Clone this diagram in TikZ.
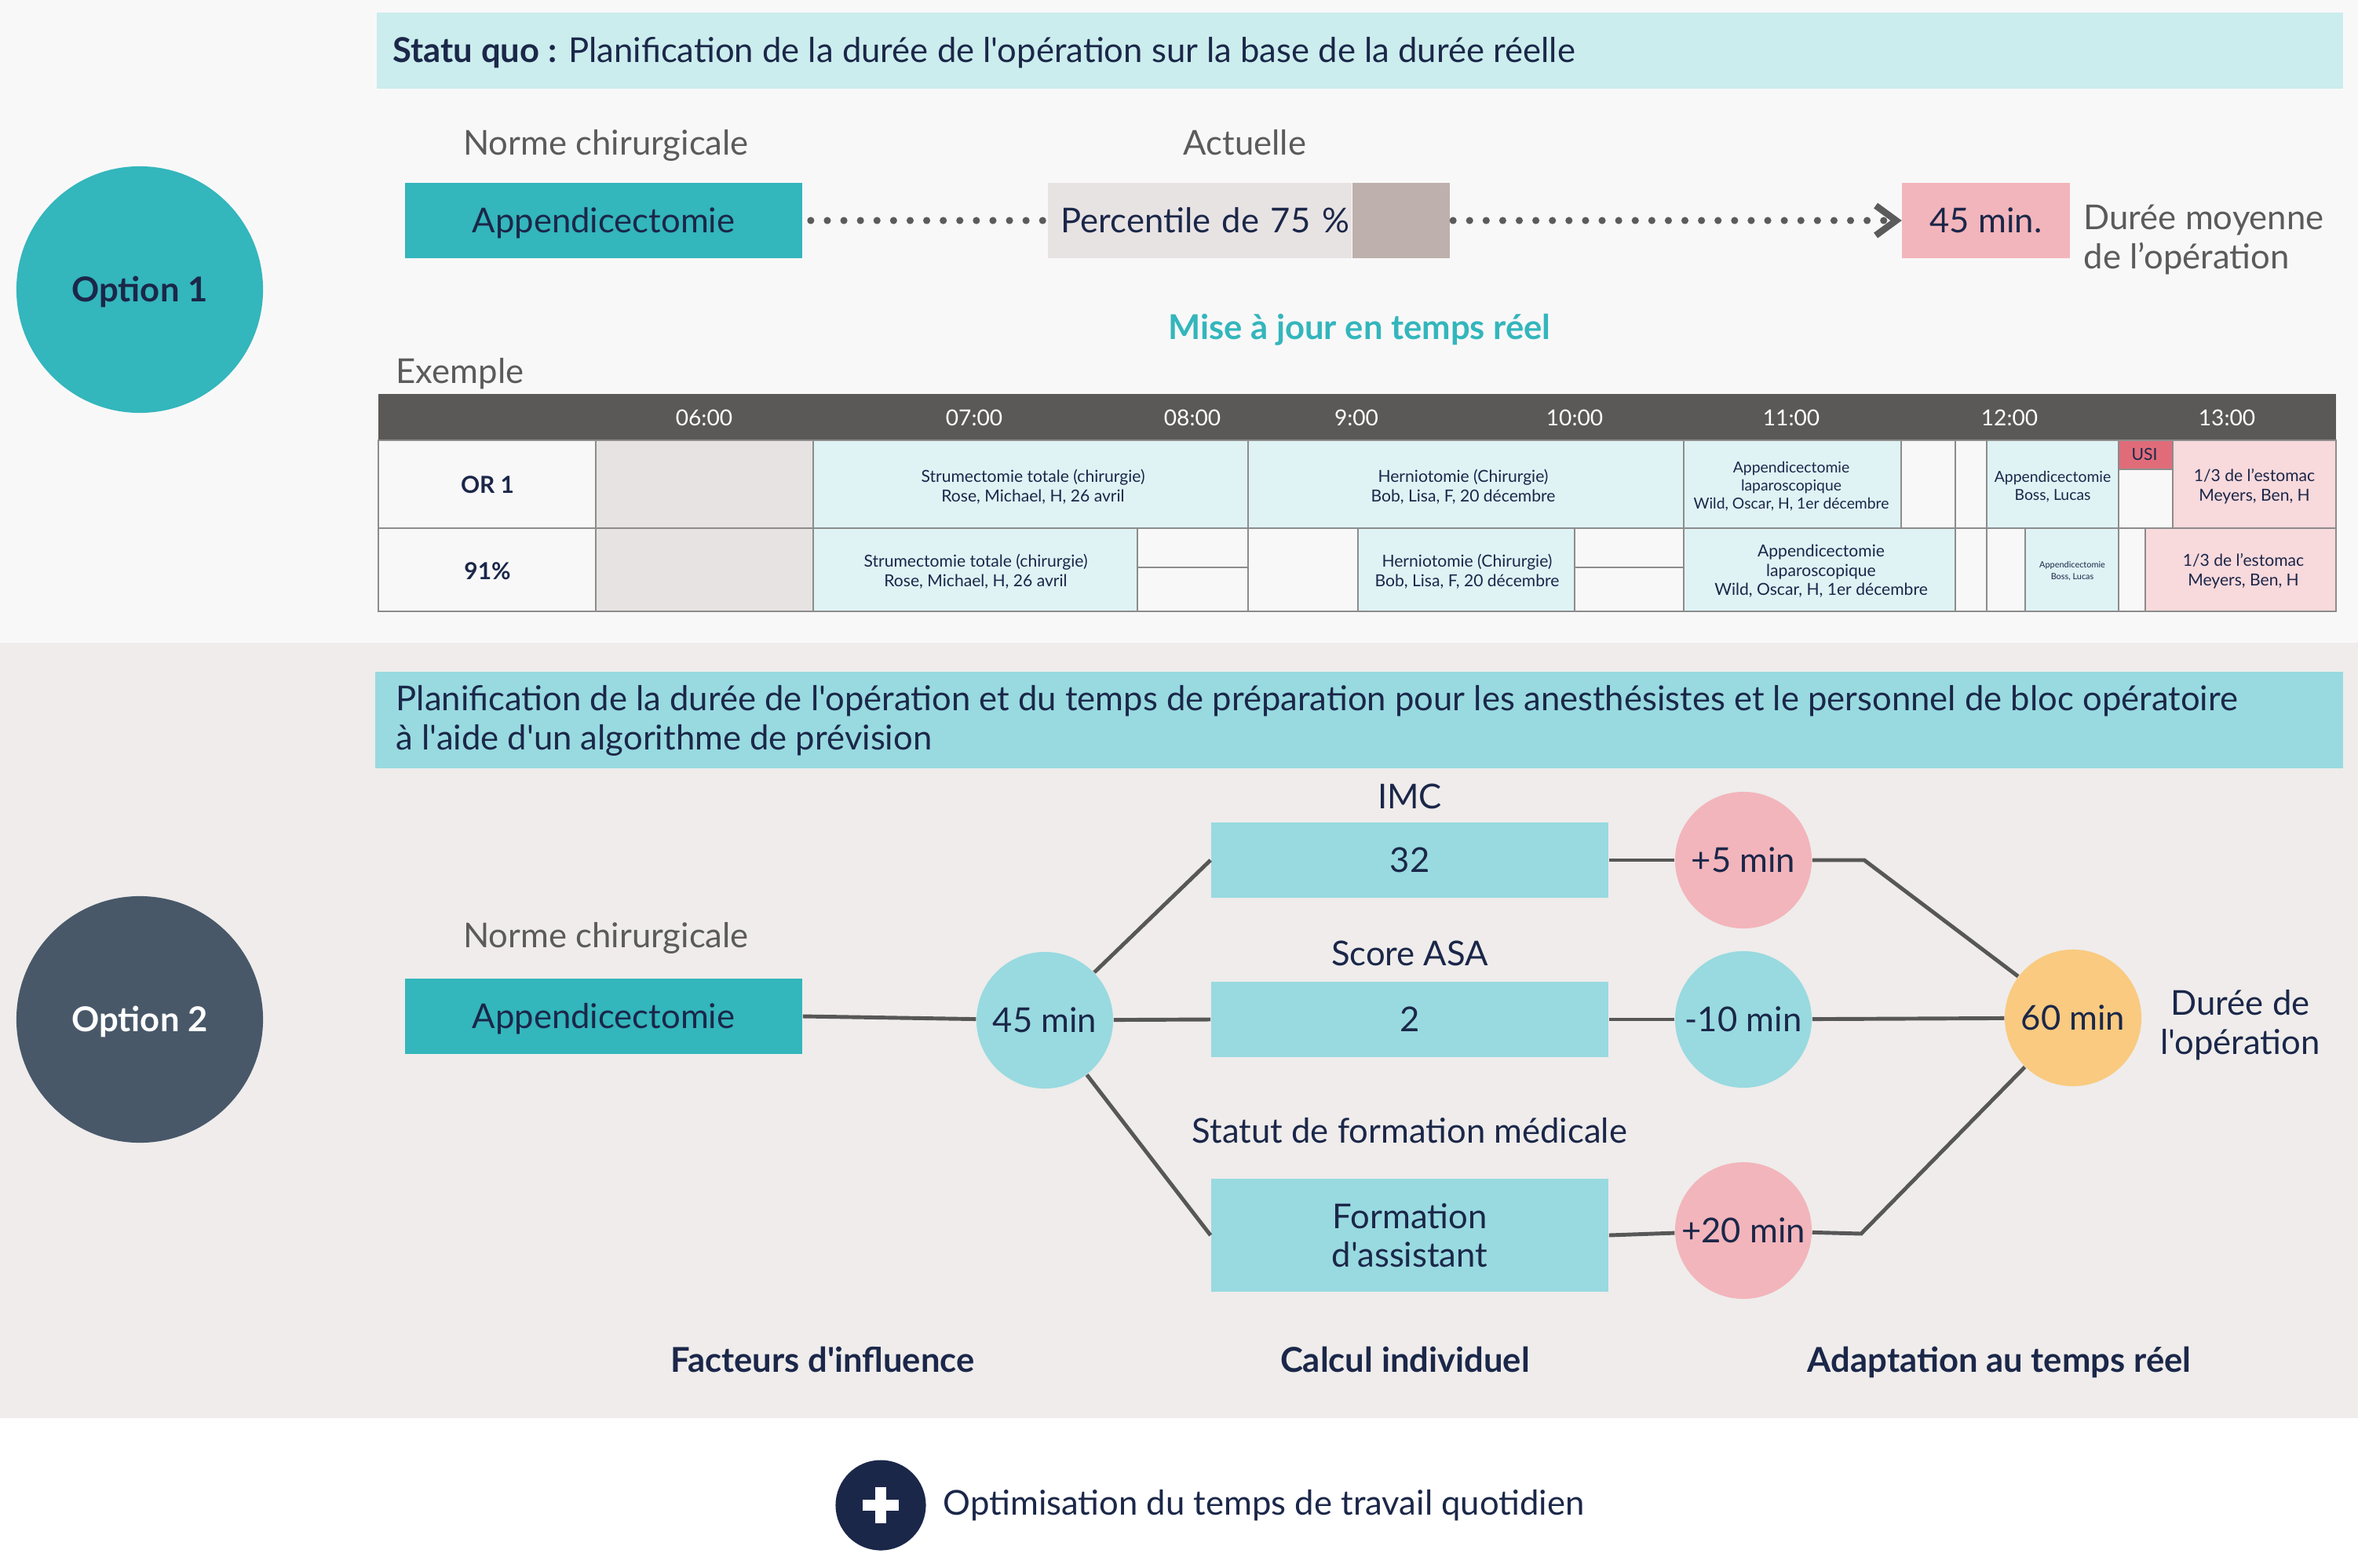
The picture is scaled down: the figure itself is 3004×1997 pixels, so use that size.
\documentclass[tikz,border=0pt]{standalone}
\usepackage{fontspec}
\setmainfont{Lato}[Ligatures=TeXOff]
\usetikzlibrary{arrows.meta,positioning}

\definecolor{navy}{HTML}{1B2749}
\definecolor{greytext}{HTML}{5B5B5B}
\definecolor{bgtop}{HTML}{F9F8F9}
\definecolor{bgmid}{HTML}{EFECEB}
\definecolor{bandlight}{HTML}{CBEDED}
\definecolor{bandteal}{HTML}{98DAE0}
\definecolor{tealbox}{HTML}{33B6BC}
\definecolor{slate}{HTML}{485869}
\definecolor{stone}{HTML}{E8E3E3}
\definecolor{stonedark}{HTML}{BEB0AD}
\definecolor{rose}{HTML}{F2B5BB}
\definecolor{amber}{HTML}{F9CA80}
\definecolor{headgrey}{HTML}{5A5957}
\definecolor{cellblue}{HTML}{DFF3F5}
\definecolor{cellpink}{HTML}{F8D9DC}
\definecolor{cellfree}{HTML}{F9F8F9}
\definecolor{usired}{HTML}{E06C7A}
\definecolor{wire}{HTML}{575757}
\definecolor{grid}{HTML}{8C8C8C}

\begin{document}
\begin{tikzpicture}[x=0.01cm,y=-0.01cm]
\tikzstyle{every node}=[inner sep=0pt,text=navy,font=\fontsize{12.4}{14}\selectfont];
\tikzstyle{lbl}=[anchor=base];
\tikzstyle{grylbl}=[anchor=base,text=greytext];
\tikzstyle{strong}=[anchor=base,font=\fontsize{12.4}{14}\selectfont\bfseries];
\tikzstyle{box}=[rectangle,minimum width=5.06cm,minimum height=0.96cm,text height=8.9pt,text depth=0pt];
\tikzstyle{bubble}=[circle,minimum size=1.74cm,text height=8.9pt,text depth=0pt];
\tikzstyle{option}=[circle,minimum size=3.14cm,text height=8.9pt,text depth=0pt,font=\fontsize{12.4}{14}\selectfont\bfseries];
\tikzstyle{wirepath}=[draw=wire,line width=1.4pt];
\tikzstyle{dots}=[draw=greytext,line width=2.6pt,line cap=round,dash pattern=on 0pt off 6pt];
\tikzstyle{cellbox}=[draw=grid,line width=0.4pt];
\tikzstyle{celltext}=[align=center,font=\fontsize{6}{7}\selectfont];
\tikzstyle{cellsmall}=[align=center,font=\fontsize{5.5}{6.5}\selectfont];

% backgrounds
\fill[bgtop] (0,0) rectangle (3004,819);
\fill[bgmid] (0,819) rectangle (3004,1807);
\fill[white] (0,1807) rectangle (3004,1997);
\useasboundingbox (0,0) rectangle (3004,1997);

% option 1
\node[option,fill=tealbox] (opt1) at (178,369) {Option 1};
\fill[bandlight] (480,16) rectangle (2985,113);
\node[lbl,anchor=base west] (statu) at (500,80) {\textbf{Statu quo :} Planification de la durée de l'opération sur la base de la durée réelle};

\node[grylbl] (norm1) at (772,198) {Norme chirurgicale};
\node[box,fill=tealbox] (app1) at (769,281) {Appendicectomie};
\node[grylbl] (actual) at (1586,198) {Actuelle};
\node[box,fill=stone,minimum width=3.87cm,inner xsep=0.17cm,text width=3.53cm,align=left,anchor=west] (pct) at (1334,281) {\mbox{Percentile de 75~\%}};
\node[box,fill=stonedark,minimum width=1.24cm,anchor=west] (pctbar) at (pct.east) {};
\node[box,fill=rose,minimum width=2.13cm] (avg) at (2530,281) {45 min.};
\node[grylbl,anchor=base west,align=left] (avglbl) at (2654,342) {Durée moyenne\\de l’opération};
\draw[dots,shorten <=0.1cm,shorten >=0.05cm] (app1.east) -- (pct.west);
\draw[dots,-{Straight Barb[length=0.26cm,width=0.38cm,line width=2.4pt]},shorten <=0.03cm] (pctbar.east) -- (avg.west);

\node[strong,text=tealbox] (live) at (1732,432) {Mise à jour en temps réel};
\node[grylbl,anchor=base west] (example) at (504,488) {Exemple};

% table
\fill[headgrey] (482,502) rectangle (2976,561);
\foreach \hour/\x in {06:00/897,07:00/1241,08:00/1519,9:00/1728,10:00/2006,11:00/2282,12:00/2560,13:00/2837}
  \node[text=white,font=\fontsize{8}{10}\selectfont] (h\x) at (\x,532) {\hour};
\foreach \xa/\xb/\ya/\yb/\col in {482/759/561/673/cellfree,759/1036/561/673/stone,1036/1590/561/673/cellblue,
  1590/2145/561/673/cellblue,2145/2422/561/673/cellblue,2422/2491/561/673/cellfree,2491/2531/561/673/cellfree,
  2531/2699/561/673/cellblue,2699/2768/561/673/cellfree,2699/2768/561/598/usired,2768/2976/561/673/cellpink,
  482/759/673/779/cellfree,759/1036/673/779/stone,1036/1449/673/779/cellblue,1449/1590/673/723/cellfree,
  1449/1590/723/779/cellfree,1590/1730/673/779/cellfree,1730/2006/673/779/cellblue,2006/2145/673/723/cellfree,
  2006/2145/723/779/cellfree,2145/2491/673/779/cellblue,2491/2531/673/779/cellfree,2531/2580/673/779/cellfree,
  2580/2699/673/779/cellblue,2699/2733/673/779/cellfree,2733/2976/673/779/cellpink}
  \filldraw[cellbox,fill=\col] (\xa,\ya) rectangle (\xb,\yb);
\draw[grid,line width=0.8pt] (482,673) -- (2976,673);
\draw[grid,line width=0.8pt] (482,779) -- (2976,779);

\node[font=\fontsize{8.5}{10}\selectfont\bfseries] (or1) at (621,618) {OR 1};
\node[font=\fontsize{8.5}{10}\selectfont\bfseries] (rate) at (621,728) {91\%};
\node[celltext] (strumA) at (1316,620) {Strumectomie totale (chirurgie)\\Rose, Michael, H, 26 avril};
\node[celltext] (hernA) at (1864,620) {Herniotomie (Chirurgie)\\Bob, Lisa, F, 20 décembre};
\node[cellsmall] (appA) at (2282,620) {Appendicectomie\\laparoscopique\\Wild, Oscar, H, 1er décembre};
\node[cellsmall] (bossA) at (2615,620) {Appendicectomie\\Boss, Lucas};
\node[celltext] (usi) at (2732,579) {USI};
\node[celltext] (stomA) at (2872,620) {1/3 de l’estomac\\Meyers, Ben, H};
\node[celltext] (strumB) at (1243,728) {Strumectomie totale (chirurgie)\\Rose, Michael, H, 26 avril};
\node[celltext] (hernB) at (1869,728) {Herniotomie (Chirurgie)\\Bob, Lisa, F, 20 décembre};
\node[celltext] (appB) at (2320,728) {Appendicectomie\\laparoscopique\\Wild, Oscar, H, 1er décembre};
\node[celltext,font=\fontsize{3.1}{4.3}\selectfont] (bossB) at (2640,728) {Appendicectomie\\Boss, Lucas};
\node[celltext] (stomB) at (2858,728) {1/3 de l’estomac\\Meyers, Ben, H};

% option 2
\fill[bandteal] (478,856) rectangle (2985,979);
\node[lbl,anchor=base west,align=left] (band2) at (504,955) {Planification de la durée de l'opération et du temps de préparation pour les anesthésistes et le personnel de bloc opératoire\\à l'aide d'un algorithme de prévision};
\node[option,fill=slate,text=white] (opt2) at (178,1299) {Option 2};
\node[grylbl] (norm2) at (772,1207) {Norme chirurgicale};
\node[box,fill=tealbox] (app2) at (769,1295) {Appendicectomie};
\node[bubble,fill=bandteal] (base) at (1331,1300) {45 min};

\node[box,fill=bandteal] (bmi) at (1796,1096) {32};
\node[lbl] (bmilbl) at (1796,1030) {IMC};
\node[bubble,fill=rose] (bmiadd) at (2221,1096) {+5 min};
\node[box,fill=bandteal] (asa) at (1796,1299) {2};
\node[lbl] (asalbl) at (1796,1230) {Score ASA};
\node[bubble,fill=bandteal] (asaadd) at (2221,1299) {-10 min};
\node[rectangle,fill=bandteal,minimum width=5.06cm,minimum height=1.43cm,align=center] (train) at (1796,1574) {Formation\\d'assistant};
\node[lbl] (trainlbl) at (1796,1456) {Statut de formation médicale};
\node[bubble,fill=rose] (trainadd) at (2221,1568) {+20 min};
\node[bubble,fill=amber] (total) at (2641,1297) {60 min};
\node[lbl,align=center] (totallbl) at (2854,1343) {Durée de\\l'opération};

\coordinate (bendA) at (2375,1096);
\coordinate (bendB) at (2371,1572);
\draw[wirepath] (app2.east) -- (base);
\draw[wirepath] (base) -- (bmi.west);
\draw[wirepath] (base) -- (asa.west);
\draw[wirepath] (base) -- (train.west);
\draw[wirepath] (bmi.east) -- (bmiadd);
\draw[wirepath] (asa.east) -- (asaadd);
\draw[wirepath] (train.east) -- (trainadd);
\draw[wirepath] (bmiadd) -- (bendA) -- (total);
\draw[wirepath] (asaadd) -- (total);
\draw[wirepath] (trainadd) -- (bendB) -- (total);

\node[strong] (factors) at (1048,1748) {Facteurs d'influence};
\node[strong] (calc) at (1790,1748) {Calcul individuel};
\node[strong] (adapt) at (2547,1748) {Adaptation au temps réel};

% bottom line
\node[circle,fill=navy,minimum size=1.15cm] (plus) at (1122,1918) {};
\draw[white,line width=4pt] ([xshift=-0.23cm]plus.center) -- ([xshift=0.23cm]plus.center);
\draw[white,line width=4pt] ([yshift=-0.23cm]plus.center) -- ([yshift=0.23cm]plus.center);
\node[lbl,anchor=base west] (gain) at (1201,1930) {Optimisation du temps de travail quotidien};
\end{tikzpicture}
\end{document}
